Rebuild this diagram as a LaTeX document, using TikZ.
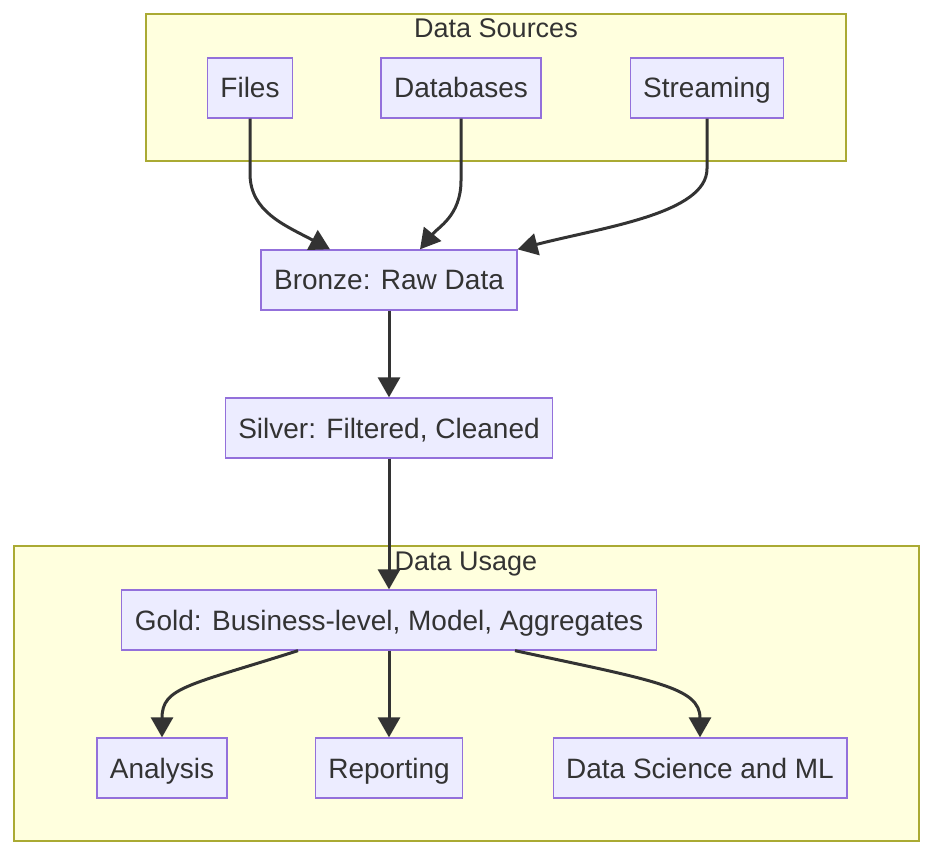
\documentclass[tikz,border=0pt]{standalone}
\usepackage{fontspec}
\setmainfont{Liberation Sans}
\usetikzlibrary{arrows.meta}

\definecolor{boxfill}{HTML}{ECECFF}
\definecolor{boxline}{HTML}{9370DB}
\definecolor{groupfill}{HTML}{FFFFDE}
\definecolor{groupline}{HTML}{AAAA33}
\definecolor{ink}{HTML}{333333}

\begin{document}
\begin{tikzpicture}[x=1pt,y=-1pt]

% Styles for the boxes, the two groups and the arrows
\tikzstyle{stage}=[draw=boxline, fill=boxfill, line width=1.3pt, minimum height=60pt, inner xsep=13pt, text height=24pt, text depth=4pt, text=ink, font=\fontsize{28}{33}\selectfont]
\tikzstyle{group}=[draw=groupline, fill=groupfill, line width=1.3pt]
\tikzstyle{grouptitle}=[anchor=base, text=ink, font=\fontsize{27}{32}\selectfont]
\tikzstyle{flow}=[->, >={Triangle[length=20pt,width=22pt]}, draw=ink, line width=3pt]

\def\mid{389}     % Middle line of the pipeline

\useasboundingbox (0,0) rectangle (936,858);

% The two groups
\draw [group] (146,14) rectangle (846,161);
\node [grouptitle] (sourcestitle) at (496,38) {Data Sources};
\draw [group] (14,546) rectangle (919,841);
\node [grouptitle] (usagetitle) at (466,570) {Data Usage};

% Sources
\node [stage] (files) at (250,88) {Files};
\node [stage] (databases) at (461,88) {Databases};
\node [stage] (streaming) at (707,88) {Streaming};

% Pipeline
\node [stage] (bronze) at (\mid,280) {Bronze: Raw Data};
\node [stage] (silver) at (\mid,428) {Silver: Filtered, Cleaned};
\node [stage] (gold) at (\mid,620) {Gold: Business-level, Model, Aggregates};

% Uses
\node [stage] (analysis) at (162,768) {Analysis};
\node [stage] (reporting) at (\mid,768) {Reporting};
\node [stage] (science) at (700,768) {Data Science and ML};

% Sources into bronze
\draw [flow] (files.south) -- ++(0,55) .. controls +(0,38) and +(-45,-24) .. ([xshift=-59pt]bronze.north);
\draw [flow] (databases.south) -- ++(0,62) .. controls +(0,35) and +(18,-22) .. ([xshift=31pt]bronze.north);
\draw [flow] (streaming.south) -- ++(0,50) .. controls +(0,45) and +(85,-22) .. (bronze.north east);

% Down the pipeline
\draw [flow] (bronze) -- (silver);
\draw [flow] (silver) -- (gold);

% Gold out to the uses
\draw [flow] ([xshift=-91pt]gold.south) .. controls +(-110,35) and +(0,-50) .. (analysis.north);
\draw [flow] (gold) -- (reporting);
\draw [flow] ([xshift=126pt]gold.south) .. controls +(140,30) and +(0,-50) .. (science.north);

\end{tikzpicture}
\end{document}
